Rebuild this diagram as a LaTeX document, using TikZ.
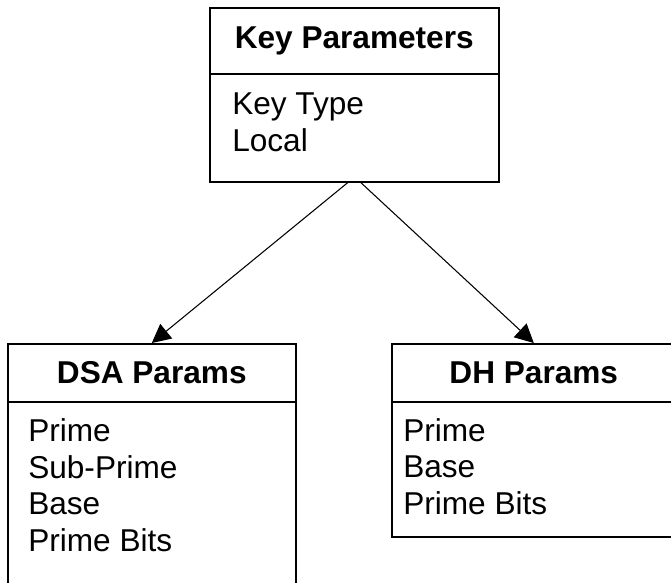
\documentclass[tikz,border=0pt]{standalone}
\usepackage{fontspec}
\setmainfont{Liberation Sans}
\usetikzlibrary{arrows.meta,positioning}
\tikzset{
  classbox/.style={draw, line width=1.2pt, inner sep=0pt},
  classhead/.style={classbox, anchor=north, font=\fontsize{23.7}{27.5}\selectfont\bfseries},
  classattrs/.style={inner sep=0pt, align=left, anchor=base west, font=\fontsize{23.7}{27.5}\selectfont},
  link/.style={-{Triangle[length=14pt,width=14pt]}, line width=0.8pt},
}
\begin{document}
\begin{tikzpicture}
        [x=0.75pt,y=-0.75pt]
        \useasboundingbox (0,0) rectangle (671,582);
        \node[classbox, anchor=north west, minimum width=216.75pt, minimum height=130.5pt] (K) at (209,7) {};
        \node[classhead, minimum width=216.75pt, minimum height=49.5pt] (KH) at (K.north) {Key Parameters};
        % base = baseline of the last line
        \node[classattrs] (KL) at ([shift={(23,77)}]KH.south west) {Key Type\\Local};
        \node[classbox, anchor=north west, minimum width=216pt, minimum height=225pt] (DSA) at (7,343) {};
        \node[classhead, minimum width=216pt, minimum height=43.5pt] (DSAH) at (DSA.north) {DSA Params};
        \node[classattrs] (DSAL) at ([shift={(21,149)}]DSAH.south west) {Prime\\Sub-Prime\\Base\\Prime Bits};
        \node[classbox, anchor=north west, minimum width=213pt, minimum height=144.75pt] (DH) at (391,343) {};
        \node[classhead, minimum width=213pt, minimum height=43.5pt] (DHH) at (DH.north) {DH Params};
        \node[classattrs] (DHL) at ([shift={(12,112)}]DHH.south west) {Prime\\Base\\Prime Bits};
        \draw[link] ([xshift=-4.9pt]K.south) -- (DSA.north);
        \draw[link] ([xshift=4.9pt]K.south) -- (DH.north);
    \end{tikzpicture}
\end{document}
